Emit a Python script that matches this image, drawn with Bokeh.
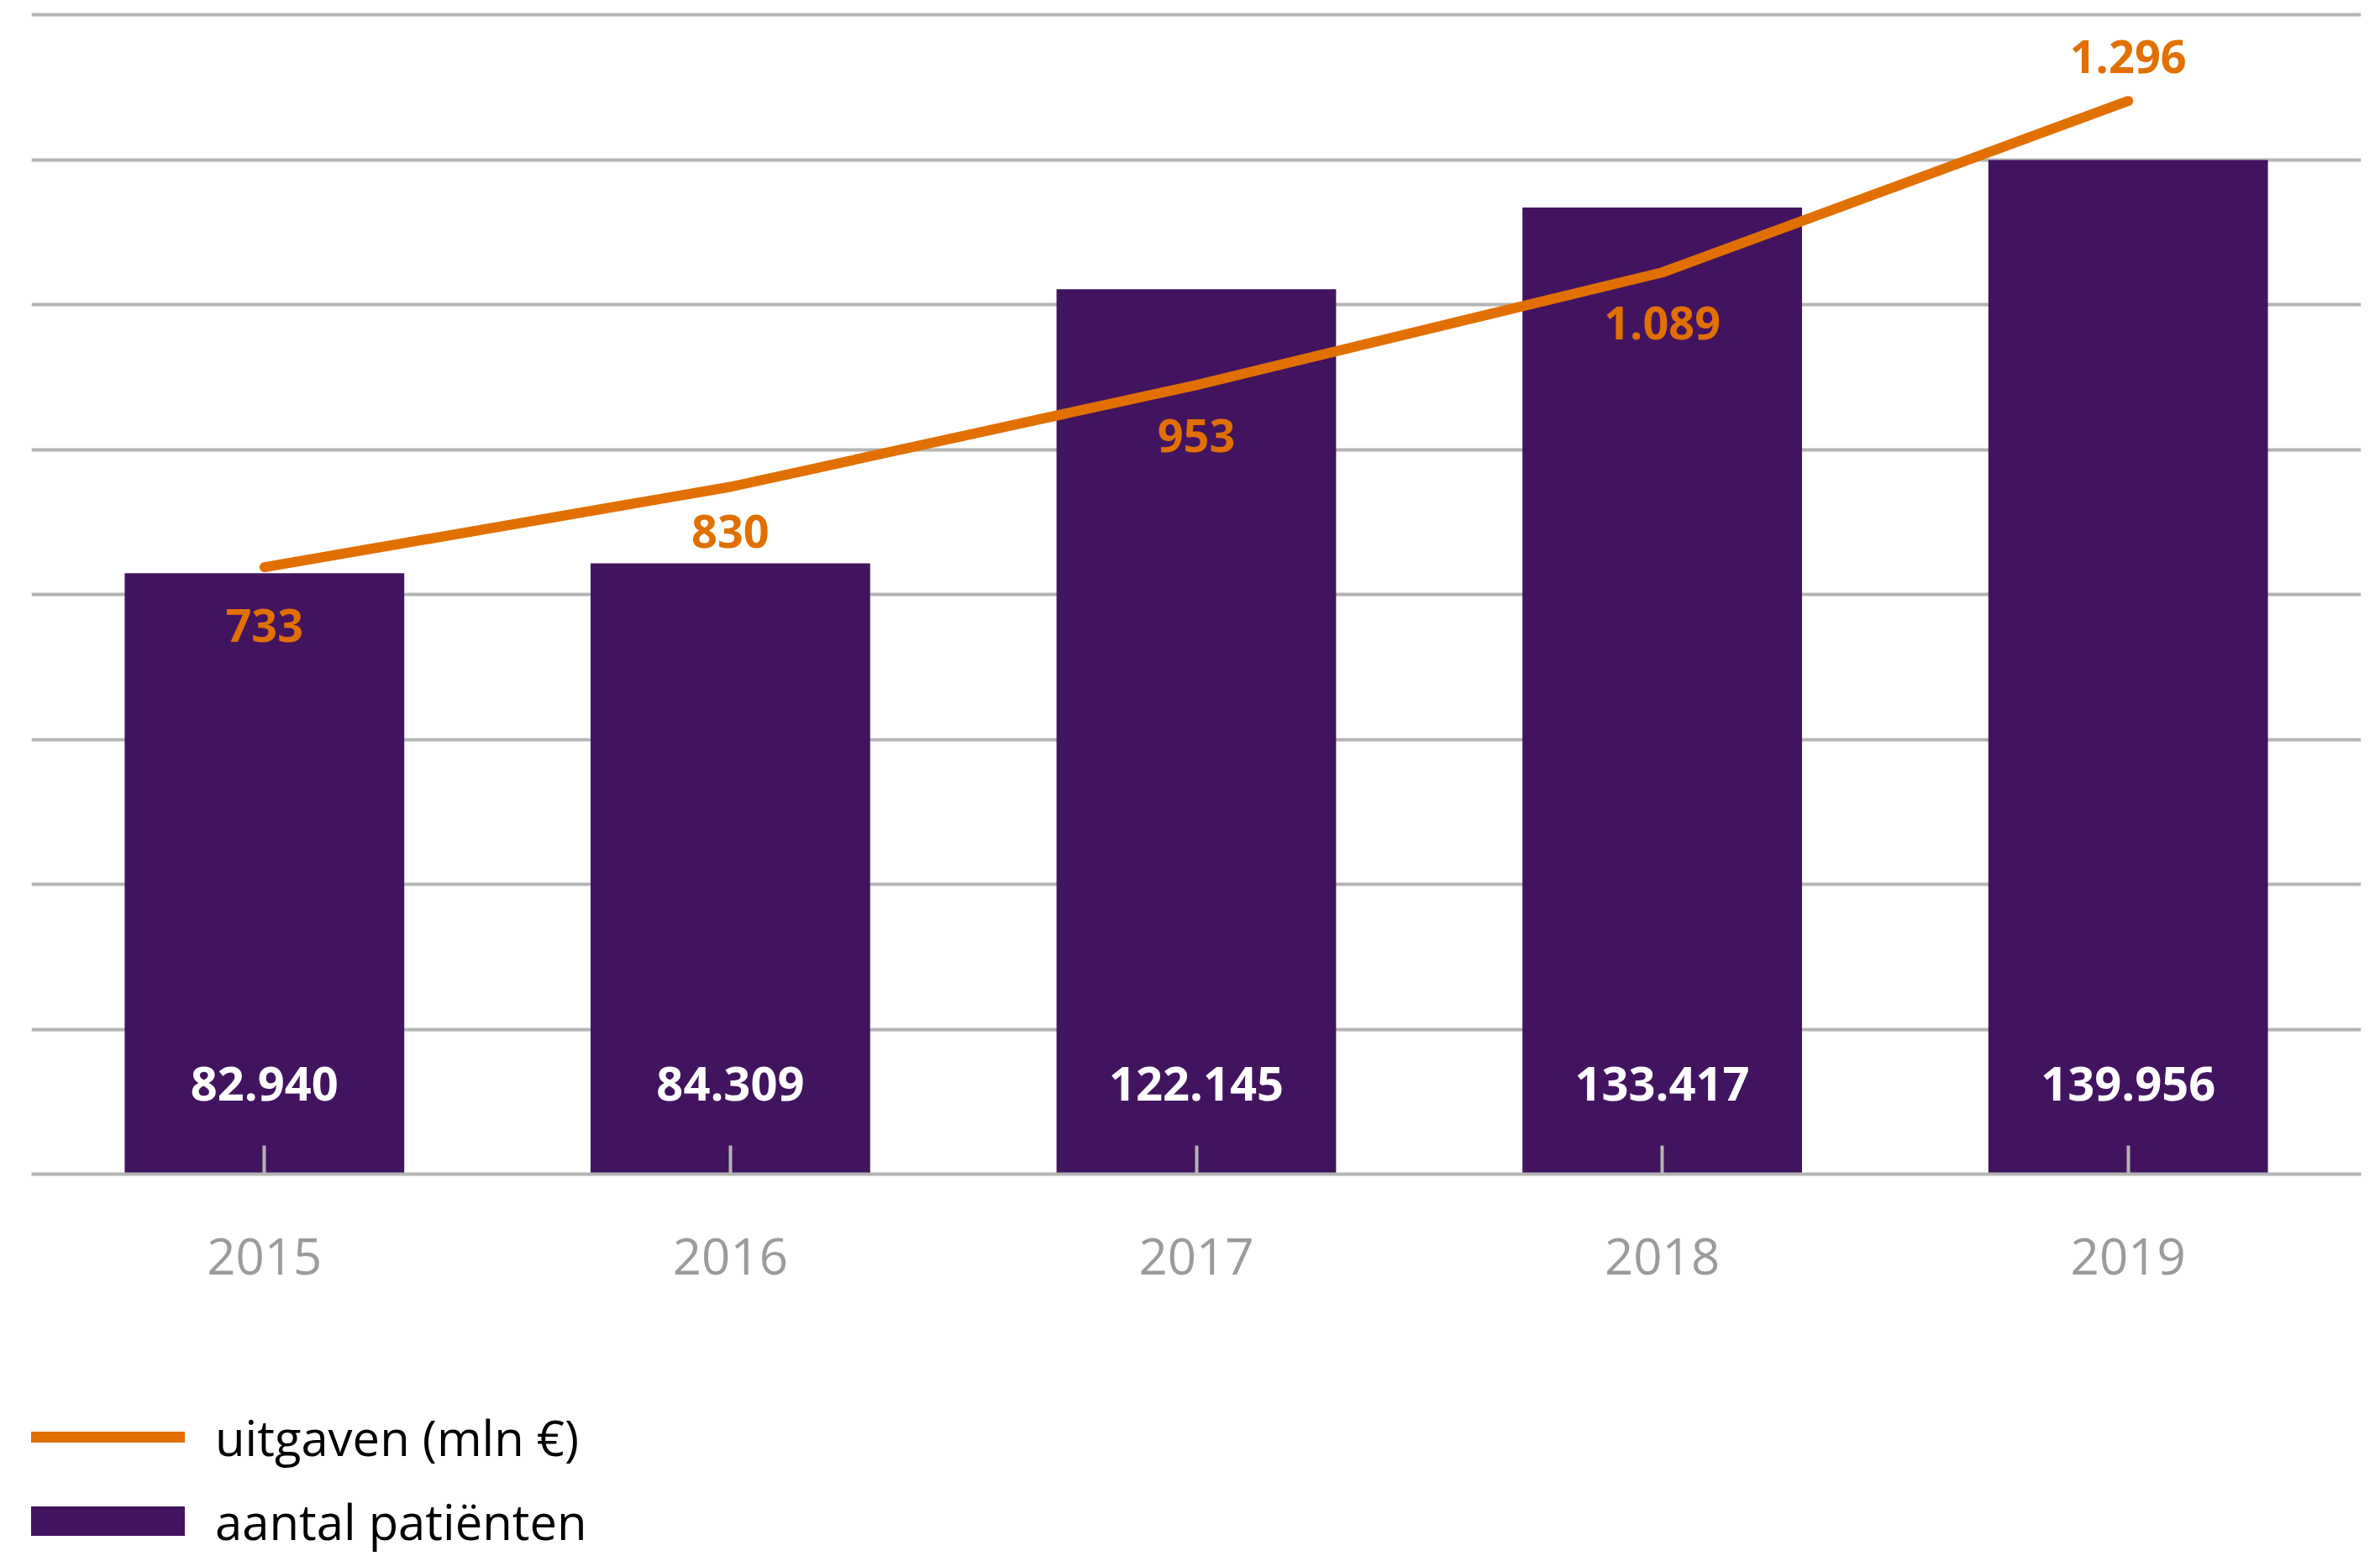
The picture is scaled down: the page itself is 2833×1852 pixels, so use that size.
from bokeh.plotting import figure
from bokeh.layouts import column
from bokeh.models import (Range1d, Grid, FixedTicker, ColumnDataSource, Legend,
                          LegendItem, FactorRange)
from bokeh.core.properties import value
from bokeh.embed import file_html
from bokeh.resources import INLINE

# ---------------- data ----------------
years = ["2015", "2016", "2017", "2018", "2019"]
patients = [82940, 84309, 122145, 133417, 139956]          # aantal patiënten
expenses = [733, 830, 953, 1089, 1296]                     # uitgaven (mln €)
legend_labels = ["uitgaven (mln €)", "aantal patiënten"]

# ---------------- style ----------------
PURPLE = "#42145F"
ORANGE = "#E17000"
GRID = "#b4b4b4"
TICK_LABEL = "#9b9b9b"
FONT = "Open Sans"
expense_label_offsets = [69, 53, 60, 60, -53]   # px below (+) / above (-) the line

W = 2833
H_CHART = 1560
H_LEGEND = 292


def nl(v):
    return f"{v:,}".replace(",", ".")


src = ColumnDataSource(dict(
    year=years,
    patients=patients,
    expenses=expenses,
    patients_label=[nl(v) for v in patients],
    expenses_label=[nl(v) for v in expenses],
    exp_offset=expense_label_offsets,
))

p = figure(width=W, height=H_CHART,
           x_range=FactorRange(factors=years),
           y_range=Range1d(0, 162000),
           y_axis_location=None,
           output_backend="svg", toolbar_location=None,
           min_border_left=37, min_border_right=23,
           min_border_top=0, min_border_bottom=163)
p.extra_y_ranges = {"exp": Range1d(0, 1417.5)}
p.outline_line_color = None
p.xgrid.visible = False
p.ygrid.visible = False
p.add_layout(Grid(dimension=1,
                  ticker=FixedTicker(ticks=list(range(0, 160001, 20000))),
                  grid_line_color=GRID, grid_line_width=4))

xa = p.xaxis[0]
xa.axis_line_color = GRID
xa.axis_line_width = 4
xa.major_tick_in = 34
xa.major_tick_out = 0
xa.major_tick_line_color = GRID
xa.major_tick_line_width = 4
xa.minor_tick_line_color = None
xa.major_label_text_font = FONT
xa.major_label_text_font_size = "60px"
xa.major_label_text_color = TICK_LABEL
xa.major_label_standoff = 76

bars = p.vbar(x="year", top="patients", width=0.6, source=src,
              fill_color=PURPLE, line_color=None)

line = p.line(x="year", y="expenses", source=src, y_range_name="exp",
              line_color=ORANGE, line_width=12, line_cap="round",
              line_join="round")

p.text(x="year", y=0, text="patients_label", source=src,
       text_color="white", text_font=value(FONT), text_font_style="bold",
       text_font_size="56px", text_align="center", text_baseline="middle",
       y_offset=-108)

p.text(x="year", y="expenses", text="expenses_label", source=src,
       y_range_name="exp", y_offset="exp_offset",
       text_color=ORANGE, text_font=value(FONT), text_font_style="bold",
       text_font_size="54px", text_align="center", text_baseline="middle")

# ---------------- legend (own strip below the chart) ----------------
lg = figure(width=W, height=H_LEGEND, x_range=Range1d(0, 1), y_range=Range1d(0, 1),
            x_axis_location=None, y_axis_location=None,
            output_backend="svg", toolbar_location=None, min_border=0)
lg.outline_line_color = None
lg.xgrid.visible = False
lg.ygrid.visible = False
# legend keys: single off-view point each, so only the legend swatch shows
line_key = lg.line(x=[0.5], y=[-5], line_color=ORANGE, line_width=13, line_cap="round")
bar_key = lg.line(x=[0.5], y=[-5], line_color=PURPLE, line_width=35, line_cap="butt")

legend = Legend(items=[LegendItem(label=legend_labels[0], renderers=[line_key]),
                       LegendItem(label=legend_labels[1], renderers=[bar_key])],
                location=(-4, -3), orientation="vertical",
                glyph_width=187, glyph_height=90, spacing=10, padding=0, margin=0,
                label_standoff=36, label_text_font=FONT,
                label_text_font_size="58px", label_text_color="#000000",
                border_line_color=None, background_fill_alpha=0)
lg.add_layout(legend)

layout = column(p, lg, spacing=0)
open("out.html", "w").write(file_html(layout, INLINE))
